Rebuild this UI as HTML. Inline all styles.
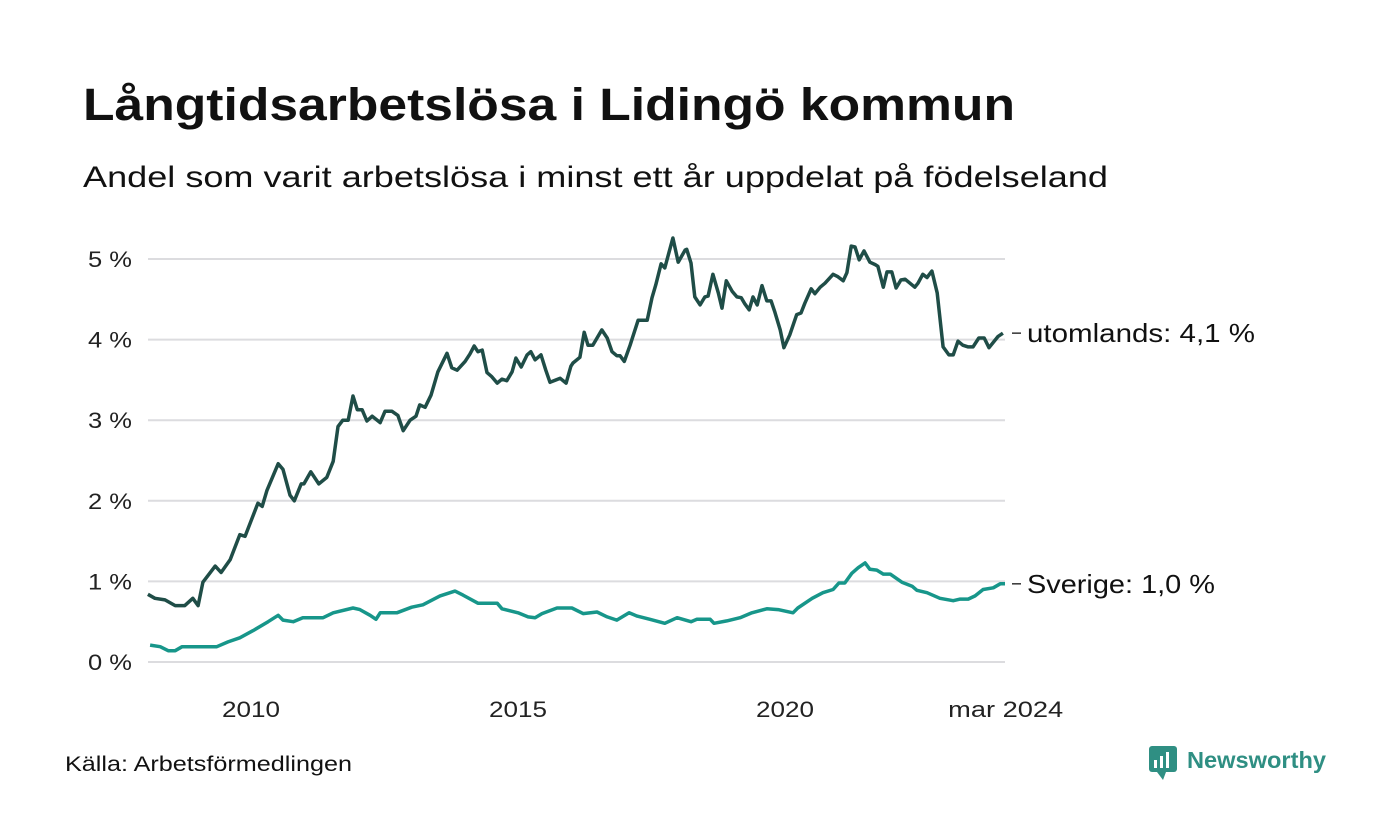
<!DOCTYPE html>
<html><head><meta charset="utf-8"><style>
html,body{margin:0;padding:0;background:#fff;}
svg{display:block;font-family:"Liberation Sans",sans-serif;}
</style></head><body>
<svg id="chart" width="1400" height="840" viewBox="0 0 1400 840" xmlns="http://www.w3.org/2000/svg">
<text x="83" y="120" font-size="45" font-weight="bold" fill="#111" textLength="932" lengthAdjust="spacingAndGlyphs">Långtidsarbetslösa i Lidingö kommun</text>
<text x="83" y="187" font-size="30" fill="#111" textLength="1025" lengthAdjust="spacingAndGlyphs">Andel som varit arbetslösa i minst ett år uppdelat på födelseland</text>
<g id="grid"></g>
<g id="yticks"></g>
<g id="xticks"></g>
<g id="lines"></g>
<text x="65" y="771" font-size="21" fill="#111" textLength="287" lengthAdjust="spacingAndGlyphs">Källa: Arbetsförmedlingen</text>
<g>
<rect x="1149" y="746" width="28" height="26" rx="3" fill="#2f8f83"/>
<polygon points="1157,772 1163,780 1166,772" fill="#2f8f83"/>
<rect x="1154" y="760" width="3" height="8" fill="#fff"/><rect x="1160" y="756" width="3" height="12" fill="#fff"/><rect x="1166" y="752" width="3" height="16" fill="#fff"/>
<text x="1187" y="768" font-size="23" font-weight="bold" fill="#2f8f83" textLength="139" lengthAdjust="spacingAndGlyphs">Newsworthy</text>
</g>
</svg>
<script>
const yTicks=[0,1,2,3,4,5];
const yTickLabels=["0 %","1 %","2 %","3 %","4 %","5 %"];
const xTicks=[2010,2015,2020,2024.17];
const xTickLabels=["2010","2015","2020","mar 2024"];
const foreignDates=[2008.07,2008.20,2008.39,2008.58,2008.76,2008.91,2009.01,2009.10,2009.33,2009.44,2009.61,2009.79,2009.89,2010.13,2010.21,2010.30,2010.51,2010.60,2010.73,2010.81,2010.94,2010.99,2011.12,2011.27,2011.42,2011.54,2011.63,2011.72,2011.82,2011.91,2011.99,2012.08,2012.17,2012.27,2012.42,2012.51,2012.64,2012.75,2012.85,2012.98,2013.09,2013.16,2013.26,2013.37,2013.50,2013.67,2013.76,2013.86,2014.01,2014.10,2014.18,2014.25,2014.33,2014.42,2014.51,2014.61,2014.70,2014.79,2014.89,2014.96,2015.06,2015.17,2015.24,2015.32,2015.43,2015.52,2015.60,2015.79,2015.90,2015.99,2016.03,2016.16,2016.24,2016.31,2016.40,2016.57,2016.67,2016.76,2016.85,2016.91,2016.99,2017.10,2017.25,2017.42,2017.51,2017.58,2017.68,2017.75,2017.90,2018.00,2018.13,2018.16,2018.24,2018.31,2018.41,2018.50,2018.56,2018.65,2018.75,2018.82,2018.90,2019.01,2019.10,2019.18,2019.25,2019.33,2019.40,2019.48,2019.57,2019.66,2019.74,2019.81,2019.91,2019.98,2020.09,2020.22,2020.30,2020.37,2020.49,2020.56,2020.66,2020.75,2020.90,2020.99,2021.09,2021.16,2021.24,2021.31,2021.39,2021.48,2021.59,2021.69,2021.74,2021.84,2021.91,2022.00,2022.08,2022.17,2022.25,2022.43,2022.49,2022.58,2022.66,2022.75,2022.85,2022.96,2023.07,2023.15,2023.24,2023.33,2023.43,2023.52,2023.63,2023.73,2023.82,2023.99,2024.08];
const foreignValues=[0.84,0.79,0.77,0.70,0.70,0.79,0.70,0.99,1.19,1.11,1.27,1.58,1.56,1.97,1.93,2.13,2.46,2.39,2.07,2.00,2.21,2.21,2.36,2.21,2.29,2.49,2.92,3.00,3.00,3.30,3.13,3.13,2.99,3.05,2.97,3.11,3.11,3.06,2.87,3.00,3.05,3.19,3.16,3.31,3.60,3.83,3.65,3.62,3.73,3.82,3.92,3.85,3.87,3.59,3.54,3.46,3.51,3.49,3.60,3.77,3.66,3.81,3.85,3.75,3.81,3.62,3.47,3.52,3.46,3.67,3.71,3.78,4.09,3.93,3.93,4.12,4.02,3.85,3.80,3.80,3.73,3.93,4.24,4.24,4.52,4.68,4.94,4.89,5.26,4.96,5.11,5.12,4.95,4.53,4.43,4.53,4.54,4.81,4.58,4.39,4.73,4.60,4.53,4.52,4.44,4.37,4.53,4.43,4.67,4.48,4.48,4.34,4.12,3.90,4.06,4.31,4.33,4.45,4.63,4.57,4.65,4.70,4.81,4.78,4.73,4.83,5.16,5.15,4.99,5.10,4.96,4.93,4.91,4.65,4.84,4.84,4.64,4.74,4.75,4.65,4.70,4.81,4.77,4.85,4.58,3.91,3.81,3.81,3.98,3.93,3.91,3.91,4.02,4.02,3.90,4.04,4.08];
const swedenDates=[2008.11,2008.30,2008.45,2008.58,2008.71,2009.01,2009.36,2009.57,2009.79,2010.04,2010.32,2010.51,2010.60,2010.79,2010.97,2011.35,2011.54,2011.91,2012.04,2012.23,2012.34,2012.42,2012.73,2013.01,2013.22,2013.54,2013.82,2013.97,2014.25,2014.61,2014.70,2015.00,2015.19,2015.32,2015.45,2015.73,2016.01,2016.22,2016.48,2016.67,2016.85,2017.08,2017.23,2017.47,2017.75,2017.98,2018.24,2018.35,2018.60,2018.67,2018.91,2019.16,2019.38,2019.66,2019.87,2020.15,2020.24,2020.51,2020.71,2020.90,2021.01,2021.12,2021.25,2021.37,2021.50,2021.59,2021.72,2021.84,2021.97,2022.19,2022.38,2022.47,2022.66,2022.90,2023.15,2023.28,2023.43,2023.56,2023.71,2023.90,2024.03,2024.12];
const swedenValues=[0.21,0.19,0.14,0.14,0.19,0.19,0.19,0.25,0.30,0.39,0.50,0.58,0.52,0.50,0.55,0.55,0.61,0.67,0.65,0.58,0.53,0.61,0.61,0.68,0.71,0.82,0.88,0.83,0.73,0.73,0.66,0.61,0.56,0.55,0.60,0.67,0.67,0.60,0.62,0.56,0.52,0.61,0.57,0.53,0.48,0.55,0.50,0.53,0.53,0.48,0.51,0.55,0.61,0.66,0.65,0.61,0.67,0.79,0.86,0.90,0.98,0.98,1.10,1.17,1.23,1.15,1.14,1.09,1.09,0.99,0.94,0.89,0.86,0.79,0.76,0.78,0.78,0.82,0.90,0.92,0.97,0.97];

const NS="http://www.w3.org/2000/svg";
const X0=148,X1=1005;
function xs(t){return 251+(t-2010)*53.4;}
function ys(v){return 662-v*80.6;}
function mk(tag,attrs,parent){const e=document.createElementNS(NS,tag);for(const k in attrs)e.setAttribute(k,attrs[k]);parent.appendChild(e);return e;}
const grid=document.getElementById('grid'),yt=document.getElementById('yticks'),xt=document.getElementById('xticks'),lines=document.getElementById('lines');
yTicks.forEach((v,i)=>{
  const l=mk('line',{x1:X0,x2:X1,y1:ys(v),y2:ys(v),stroke:'#dcdcdf','stroke-width':2},grid);
  
  
  const t=mk('text',{x:132,y:ys(v)+8,'text-anchor':'end','font-size':22,fill:'#222',textLength:44,lengthAdjust:'spacingAndGlyphs'},yt);
  
  
  t.textContent=yTickLabels[i];
});
xTicks.forEach((v,i)=>{
  const t=mk('text',{x:xs(v)-(i===3?2:0),y:717,'text-anchor':'middle','font-size':22,fill:'#222',textLength:(i===3?115:58),lengthAdjust:'spacingAndGlyphs'},xt);
  
  
  t.textContent=xTickLabels[i];
});
function drawLine(dates,vals,color,name,label,w){
  const d=dates.map((t,i)=>(i?'L':'M')+xs(t).toFixed(1)+','+ys(vals[i]).toFixed(1)).join('');
  const p=mk('path',{d:d,fill:'none',stroke:color,'stroke-width':3.5,'stroke-linejoin':'round'},lines);
  
  
  const lv=vals[vals.length-1],ly=ys(lv);
  const tk=mk('line',{x1:1012,x2:1021,y1:ly,y2:ly,stroke:'#333','stroke-width':1.5},lines);
  
  
  const t=mk('text',{x:1027,y:ly+9,'font-size':26,fill:'#111',textLength:w,lengthAdjust:'spacingAndGlyphs'},lines);
  
  
  t.textContent=label+': '+lv.toFixed(1).replace('.',',')+' %';
}
drawLine(swedenDates,swedenValues,'#17968a','sweden-line','Sverige',188);
drawLine(foreignDates,foreignValues,'#1f4d47','foreign-line','utomlands',228);
</script>
</body></html>
